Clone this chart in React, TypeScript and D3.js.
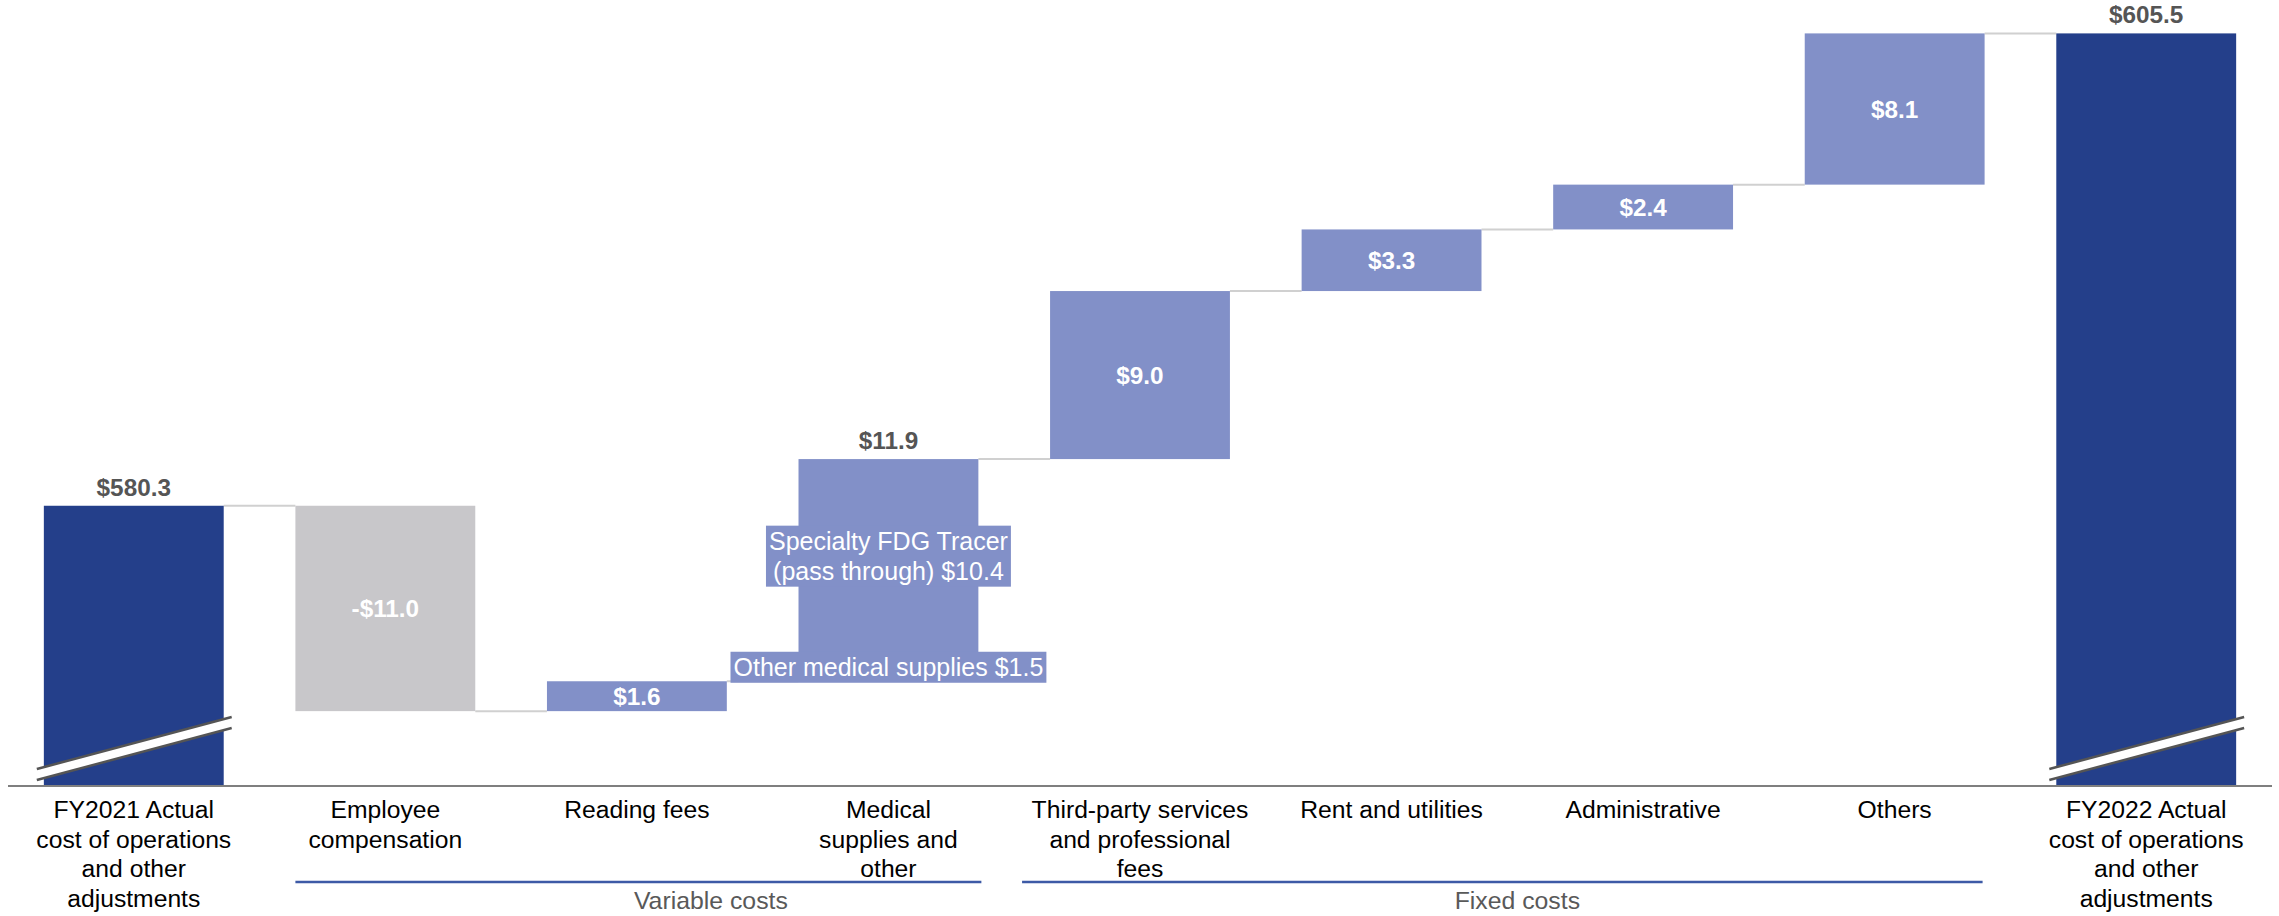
import React, { useEffect, useRef } from 'react';
import * as d3 from 'd3';

// ---------- data ----------
const categoryLines: string[][] = [
  ['FY2021 Actual', 'cost of operations', 'and other', 'adjustments'],
  ['Employee', 'compensation'],
  ['Reading fees'],
  ['Medical', 'supplies and', 'other'],
  ['Third-party services', 'and professional', 'fees'],
  ['Rent and utilities'],
  ['Administrative'],
  ['Others'],
  ['FY2022 Actual', 'cost of operations', 'and other', 'adjustments'],
];
const startTotal = 580.3;
const endTotal = 605.5;
const changes = [-11.0, 1.6, 11.9, 9.0, 3.3, 2.4, 8.1];
// medical supplies breakdown, bottom to top
const medicalParts = [
  { lines: ['Other medical supplies $1.5'], value: 1.5 },
  { lines: ['Specialty FDG Tracer', '(pass through) $10.4'], value: 10.4 },
];
const medicalIndex = 3;
const groups = [
  { name: 'Variable costs', from: 1, to: 3, padLeft: 0, padRight: 3, labelDx: 74 },
  { name: 'Fixed costs', from: 4, to: 7, padLeft: 28, padRight: -2, labelDx: 0 },
];
const axisDomain = [565.29, 605.6];

// ---------- style ----------
const W = 2279;
const H = 916;
const FONT = '"Liberation Sans", Arial, Helvetica, sans-serif';
const NAVY = '#243f8a';
const LIGHT = '#8290c8';
const GREY_BAR = '#c8c7ca';
const CONNECTOR = '#d0d0d0';
const AXIS = '#7f7f7f';
const GROUP_LINE = '#3d5aa6';
const LABEL_GREY = '#555555';

export default function App() {
  const ref = useRef<SVGSVGElement>(null);

  useEffect(() => {
    const svg = d3.select(ref.current);
    svg.selectAll('*').remove();

    const ids = categoryLines.map((l) => l.join(' '));
    const x = d3.scaleBand<string>().domain(ids).range([8, 2272]).paddingInner(0.285).paddingOuter(0.1425);
    const y = d3.scaleLinear().domain(axisDomain).range([786, 33.4]);
    const bw = x.bandwidth();
    const axisY = y(axisDomain[0]);

    type Bar = { i: number; lo: number; hi: number; kind: 'total' | 'pos' | 'neg'; value: number };
    const bars: Bar[] = [];
    bars.push({ i: 0, lo: axisDomain[0], hi: startTotal, kind: 'total', value: startTotal });
    let run = startTotal;
    changes.forEach((c, k) => {
      const next = run + c;
      bars.push({ i: k + 1, lo: Math.min(run, next), hi: Math.max(run, next), kind: c < 0 ? 'neg' : 'pos', value: c });
      run = next;
    });
    bars.push({ i: changes.length + 1, lo: axisDomain[0], hi: run, kind: 'total', value: endTotal });

    const g = svg.append('g');

    // connectors
    const levels: number[] = [startTotal];
    let r2 = startTotal;
    changes.forEach((c) => { r2 += c; levels.push(r2); });
    for (let k = 0; k < bars.length - 1; k++) {
      const lv = levels[k];
      g.append('line')
        .attr('x1', x(ids[k])! + bw)
        .attr('x2', x(ids[k + 1])!)
        .attr('y1', y(lv))
        .attr('y2', y(lv))
        .attr('stroke', CONNECTOR)
        .attr('stroke-width', 2);
    }

    // bars
    bars.forEach((b) => {
      g.append('rect')
        .attr('x', x(ids[b.i])!)
        .attr('y', y(b.hi))
        .attr('width', bw)
        .attr('height', y(b.lo) - y(b.hi))
        .attr('fill', b.kind === 'total' ? NAVY : b.kind === 'neg' ? GREY_BAR : LIGHT);
    });

    // break marks on total bars
    bars.filter((b) => b.kind === 'total').forEach((b) => {
      const x0 = x(ids[b.i])! - 7;
      const x1 = x(ids[b.i])! + bw + 8;
      const pts: [number, number][] = [
        [x0, axisY - 17], [x1, axisY - 69], [x1, axisY - 58], [x0, axisY - 6],
      ];
      g.append('polygon').attr('points', pts.map((p) => p.join(',')).join(' ')).attr('fill', '#ffffff');
      g.append('line').attr('x1', x0).attr('y1', axisY - 17).attr('x2', x1).attr('y2', axisY - 69)
        .attr('stroke', '#555555').attr('stroke-width', 2.5);
      g.append('line').attr('x1', x0).attr('y1', axisY - 6).attr('x2', x1).attr('y2', axisY - 58)
        .attr('stroke', '#555555').attr('stroke-width', 2.5);
    });

    const fmt = (v: number) => (v < 0 ? `-$${Math.abs(v).toFixed(1)}` : `$${v.toFixed(1)}`);

    // value labels
    bars.forEach((b) => {
      const cx = x(ids[b.i])! + bw / 2;
      if (b.kind === 'total' || b.i === medicalIndex) {
        g.append('text')
          .attr('x', cx).attr('y', y(b.hi) - 10)
          .attr('text-anchor', 'middle')
          .attr('font-family', FONT).attr('font-size', 24.3).attr('font-weight', 'bold')
          .attr('fill', LABEL_GREY)
          .text(fmt(b.value));
      } else {
        g.append('text')
          .attr('x', cx).attr('y', (y(b.hi) + y(b.lo)) / 2 + 8.5)
          .attr('text-anchor', 'middle')
          .attr('font-family', FONT).attr('font-size', 24.3).attr('font-weight', 'bold')
          .attr('fill', '#ffffff')
          .text(fmt(b.value));
      }
    });

    // medical breakdown labels
    const mb = bars[medicalIndex];
    const mcx = x(ids[medicalIndex])! + bw / 2;
    let base = mb.lo;
    medicalParts.forEach((p) => {
      const top = base + p.value;
      const cy = (y(base) + y(top)) / 2;
      const lh = 30;
      const n = p.lines.length;
      const tg = g.append('g');
      const rect = tg.append('rect').attr('fill', LIGHT);
      let maxW = 0;
      p.lines.forEach((ln, li) => {
        const t = tg.append('text')
          .attr('x', mcx)
          .attr('y', cy - (n * lh) / 2 + lh / 2 + li * lh + 9)
          .attr('text-anchor', 'middle')
          .attr('font-family', FONT).attr('font-size', 25)
          .attr('fill', '#ffffff')
          .text(ln);
        const wdt = (t.node() as SVGTextElement).getComputedTextLength();
        maxW = Math.max(maxW, wdt);
      });
      rect.attr('x', mcx - maxW / 2 - 3).attr('width', maxW + 6)
        .attr('y', cy - (n * lh) / 2 - 0.5).attr('height', n * lh + 1);
      base = top;
    });

    // axis line
    g.append('line').attr('x1', 8).attr('x2', 2272).attr('y1', axisY).attr('y2', axisY)
      .attr('stroke', AXIS).attr('stroke-width', 2);

    // category labels
    categoryLines.forEach((lines, i) => {
      const cx = x(ids[i])! + bw / 2;
      const t = g.append('text')
        .attr('text-anchor', 'middle')
        .attr('font-family', FONT).attr('font-size', 24.7).attr('fill', '#000000');
      lines.forEach((ln, li) => {
        t.append('tspan').attr('x', cx).attr('y', axisY + 32 + li * 29.7).text(ln);
      });
    });

    // group underlines & labels
    groups.forEach((gr) => {
      const xl = x(ids[gr.from])! - gr.padLeft;
      const xr = x(ids[gr.to])! + bw + gr.padRight;
      g.append('line').attr('x1', xl).attr('x2', xr).attr('y1', 882).attr('y2', 882)
        .attr('stroke', GROUP_LINE).attr('stroke-width', 2.5);
      const cx = (x(ids[gr.from])! + x(ids[gr.to])! + bw) / 2 + gr.labelDx;
      g.append('text')
        .attr('x', cx).attr('y', 909)
        .attr('text-anchor', 'middle')
        .attr('font-family', FONT).attr('font-size', 24.8).attr('fill', '#595959')
        .text(gr.name);
    });
  }, []);

  return (
    <svg
      ref={ref}
      width={W}
      height={H}
      style={{ position: 'absolute', left: 0, top: 0, background: '#ffffff' }}
    />
  );
}
